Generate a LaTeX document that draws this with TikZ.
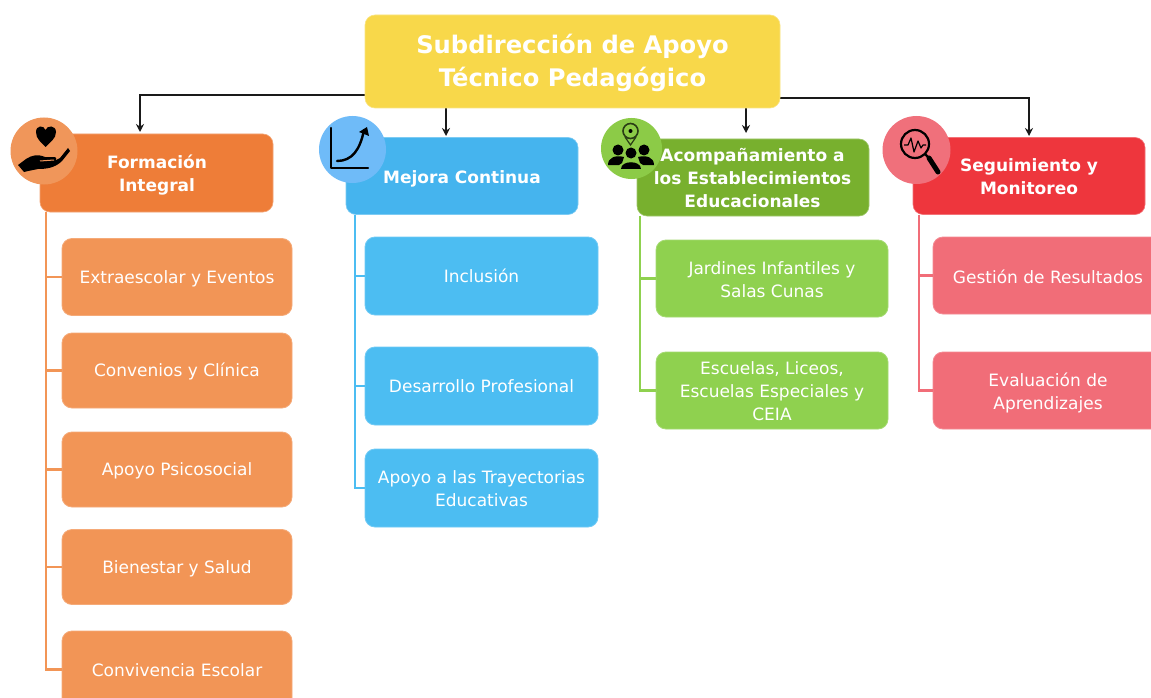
\documentclass[tikz,border=0pt]{standalone}
\usepackage{fontspec}
\setmainfont{DejaVu Sans}
\usetikzlibrary{arrows.meta}
\definecolor{yel}{HTML}{F8D84A}
\definecolor{orH}{HTML}{EE7D38}\definecolor{orC}{HTML}{F0965A}\definecolor{orK}{HTML}{F29556}
\definecolor{blH}{HTML}{45B4EE}\definecolor{blC}{HTML}{6FBBF8}\definecolor{blK}{HTML}{4CBDF2}
\definecolor{grH}{HTML}{78B02E}\definecolor{grC}{HTML}{8CCB47}\definecolor{grK}{HTML}{8FD14F}
\definecolor{reH}{HTML}{EE363D}\definecolor{reC}{HTML}{F0707B}\definecolor{reK}{HTML}{F16D78}
\definecolor{ink}{HTML}{1A1A1A}
\newcommand{\dn}[1]{\rule{0pt}{#1pt}}
\tikzset{
  x=1pt,y=-1pt,
  boxbase/.style={rounded corners=10pt,inner sep=0pt,align=center,text=white},
  top/.style={boxbase,fill=yel,draw=yel!70!white,line width=.6pt,minimum width=415pt,minimum height=93pt,font=\fontsize{24.2}{33}\selectfont\bfseries},
  head/.style={boxbase,fill=#1,draw=#1!70!white,line width=.6pt,minimum width=232pt,minimum height=77pt},
  headtext/.style={text=white,align=center,inner sep=0pt,font=\fontsize{17}{23}\selectfont\bfseries},
  kid/.style={boxbase,fill=#1,draw=#1!80!white,line width=.8pt,minimum width=230pt,minimum height=77pt,font=\fontsize{17}{23}\selectfont},
  arr/.style={draw=ink,line width=1.3pt,-{Stealth[length=8pt,width=8pt]}},
  tree/.style={draw=#1,line width=2.2pt},
  badge/.style={circle,fill=#1,inner sep=0pt},
  ico/.style={draw=black,line width=2.4pt,line cap=round,line join=round},
}
\begin{document}
\begin{tikzpicture}
\useasboundingbox (0,0) rectangle (1151,698);
\clip (0,0) rectangle (1151,698);
\fill[white] (0,0) rectangle (1151,698);
% coordinates of free ends
\coordinate (a1) at (140,132);
\coordinate (a2) at (446,136);
\coordinate (a3) at (746,133);
\coordinate (a4) at (1029,136);
\coordinate (l1) at (365,95);
\coordinate (l4) at (780,98);
\coordinate (m2) at (446,108);
\coordinate (m3) at (746,108);
% connectors under boxes
\draw[arr] (l1) -| (a1);
\draw[arr] (l4) -| (a4);
\draw[arr] (m2) -- (a2);
\draw[arr] (m3) -- (a3);
% top
\node[top] (t) at (572.5,61.5) {\dn{22}Subdirección de Apoyo\\Técnico Pedagógico};
% heads
\node[head=orH,minimum width=233pt,minimum height=78pt] (h1) at (156.5,173) {};
\node[head=blH] (h2) at (462,176) {};
\node[head=grH] (h3) at (753,177.5) {};
\node[head=reH] (h4) at (1029,176) {};
\node[headtext] (h1t) at (157,175) {Formación\\Integral};
\node[headtext] (h2t) at (462,178.5) {Mejora Continua};
\node[headtext] (h3t) at (752.5,178) {Acompañamiento a\\los Establecimientos\\Educacionales};
\node[headtext] (h4t) at (1029,177) {Seguimiento y\\Monitoreo};
% kids
\node[kid=orK] (o1) at (177,277) {\dn{16}Extraescolar y Eventos};
\node[kid=orK,minimum height=75pt] (o2) at (177,370.5) {\dn{16}Convenios y Clínica};
\node[kid=orK,minimum height=75pt] (o3) at (177,469.5) {\dn{16}Apoyo Psicosocial};
\node[kid=orK,minimum height=75pt] (o4) at (177,567) {\dn{16}Bienestar y Salud};
\node[kid=orK] (o5) at (177,669.5) {\dn{14}Convivencia Escolar};
\node[kid=blK,minimum width=233pt,minimum height=78pt] (b1) at (481.5,276) {\dn{14}Inclusión};
\node[kid=blK,minimum width=233pt,minimum height=78pt] (b2) at (481.5,386) {\dn{14}Desarrollo Profesional};
\node[kid=blK,minimum width=233pt,minimum height=78pt] (b3) at (481.5,488) {\dn{15}Apoyo a las Trayectorias\\Educativas};
\node[kid=grK,minimum width=232pt] (g1) at (772,278.5) {\dn{15}Jardines Infantiles y\\Salas Cunas};
\node[kid=grK,minimum width=232pt] (g2) at (772,390.5) {\dn{15}Escuelas, Liceos,\\Escuelas Especiales y\\CEIA};
\node[kid=reK] (r1) at (1048,275.5) {\dn{16}Gestión de Resultados};
\node[kid=reK] (r2) at (1048,390.5) {\dn{19}Evaluación de\\Aprendizajes};
% trees
\coordinate (s1) at (46,212);\coordinate (s2) at (355,215);\coordinate (s3) at (640,216);\coordinate (s4) at (919,215);
\draw[tree=orK] (s1) |- (o5.west);
\foreach \k in {o1,o2,o3,o4} \draw[tree=orK] (s1 |- \k.west) -- (\k.west);
\draw[tree=blK] (s2) |- (b3.west);
\foreach \k in {b1,b2} \draw[tree=blK] (s2 |- \k.west) -- (\k.west);
\draw[tree=grK] (s3) |- (g2.west);
\draw[tree=grK] (s3 |- g1.west) -- (g1.west);
\draw[tree=reK] (s4) |- (r2.west);
\draw[tree=reK] (s4 |- r1.west) -- (r1.west);
% badges
\node[badge=orC,minimum size=67pt] (c1) at (44,151) {};
\node[badge=blC,minimum size=67pt] (c2) at (352.5,149.5) {};
\node[badge=grC,minimum size=61pt] (c3) at (631.5,148.5) {};
\node[badge=reC,minimum size=68pt] (c4) at (916.5,150) {};
% icon 1: hand and heart
\fill (45.5,147) .. controls (41,142) and (36,139) .. (36,132) .. controls (36,125) and (44,125) .. (45.5,130) .. controls (47,125) and (56,125) .. (56,132) .. controls (56,139) and (50,142) .. (45.5,147) -- cycle;
\fill (18,165) -- (26,159) .. controls (32,155) and (38,154) .. (45,157) -- (54,157) .. controls (57,157) and (57,160) .. (54,161) -- (60,158) -- (68,148) -- (70,151) -- (62,161) .. controls (55,168) and (46,169) .. (38,169) -- (28,171) -- (24,172) -- cycle;
\draw[orC,line width=1pt] (40,161) -- (54,160);
% icon 2: chart
\draw[ico] (331,128) -- (331,168) -- (368,168);
\draw[ico] (337,161) .. controls (352,161) and (360,150) .. (364,130);
\fill (367,127) -- (369,136) -- (359,132) -- cycle;
% icon 3: pin and people
\draw[black!70!grC,line width=1.6pt] (630.5,131) circle (7.5);
\fill (630.5,131) circle (2);
\draw[black!70!grC,line width=1.2pt] (625,137) -- (630.5,145) -- (636,137);
\fill (618,150) circle (5.5);\fill (644,150) circle (5.5);\fill (631,153) circle (5.5);
\fill (608,165) .. controls (608,157) and (616,155) .. (624,157) -- (622,163) -- (619,165) -- cycle;
\fill (654,165) .. controls (654,157) and (646,155) .. (638,157) -- (640,163) -- (643,165) -- cycle;
\fill (621,169) .. controls (621,160) and (641,160) .. (641,169) -- cycle;
% icon 4: magnifier
\draw[black,line width=2.2pt] (915,144) circle (14);
\draw[black,line width=1.2pt,line join=round] (904,145) -- (908,145) -- (911,138) -- (914,152) -- (918,141) -- (921,148) -- (923,145) -- (926,145);
\draw[black,line width=2.2pt] (925,154) -- (929,158);
\draw[black,line width=5pt,line cap=round] (929,158) -- (938,172);
\end{tikzpicture}
\end{document}
